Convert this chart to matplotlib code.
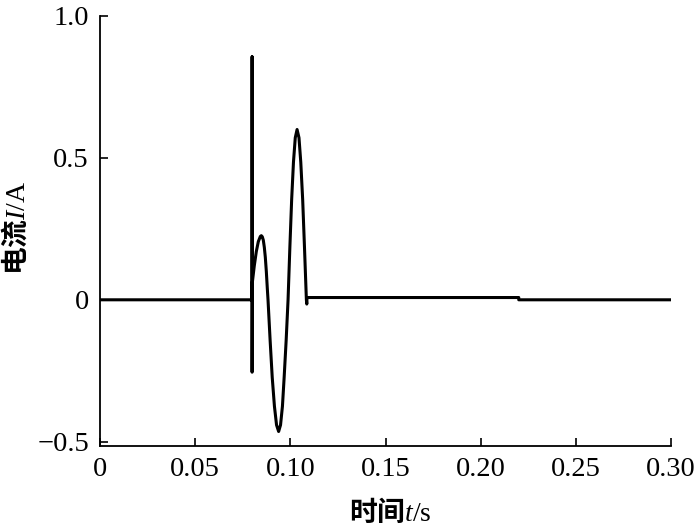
import matplotlib
matplotlib.use("Agg")
import matplotlib.pyplot as plt

plt.rcParams['font.family'] = ['Liberation Serif', 'Noto Sans CJK SC']
plt.rcParams['mathtext.fontset'] = 'custom'
plt.rcParams['mathtext.it'] = 'Liberation Serif:italic'
plt.rcParams['mathtext.rm'] = 'Liberation Serif'

# 电流波形 (读图得到的点)
t = [0.0, 0.0799, 0.0799, 0.0799, 0.0800,
     0.08105, 0.08211, 0.08316, 0.08421, 0.08474, 0.08526, 0.08579, 0.08632,
     0.08684, 0.08737, 0.08789, 0.08826, 0.08937, 0.09047, 0.09163, 0.09274,
     0.09384, 0.09484, 0.09584, 0.09674, 0.09779, 0.09879, 0.09974, 0.10068,
     0.10163, 0.10258, 0.10353, 0.10453, 0.10547, 0.10647, 0.10742, 0.10842,
     0.10863, 0.10874, 0.2200, 0.2200, 0.3000]
I = [0.0, 0.0, 0.856, -0.255, 0.06,
     0.12, 0.17, 0.205, 0.223, 0.226, 0.222, 0.21, 0.185,
     0.15, 0.10, 0.04, 0.0, -0.143, -0.273, -0.375, -0.441,
     -0.464, -0.441, -0.375, -0.273, -0.143, 0.0, 0.185, 0.353,
     0.485, 0.571, 0.60, 0.571, 0.485, 0.353, 0.185, 0.0,
     -0.015, 0.008, 0.008, 0.0, 0.0]

xticks = [0, 0.05, 0.10, 0.15, 0.20, 0.25, 0.30]
xticklabels = ["0", "0.05", "0.10", "0.15", "0.20", "0.25", "0.30"]
yticks = [-0.5, 0, 0.5, 1.0]
yticklabels = ["\u22120.5", "0", "0.5", "1.0"]

fig = plt.figure(figsize=(7, 5.32), dpi=100)
ax = fig.add_axes([0.1429, 0.1617, 0.8157, 0.8083])
ax.plot(t, I, color="black", linewidth=2.2)

ax.set_xlim(0, 0.30)
ax.set_ylim(-0.515, 1.0)
ax.set_xticks(xticks)
ax.set_xticklabels(xticklabels)
ax.set_yticks(yticks)
ax.set_yticklabels(yticklabels)
ax.tick_params(direction="in", length=6, width=1.2, labelsize=20.5, pad=8)
ax.spines["top"].set_visible(False)
ax.spines["right"].set_visible(False)
ax.spines["left"].set_linewidth(1.3)
ax.spines["bottom"].set_linewidth(1.3)

ax.set_xlabel("时间$t/\\mathrm{s}$", fontsize=20, va="center",
              fontfamily="Noto Sans CJK SC", fontweight="bold")
ax.set_ylabel("电流$I/\\mathrm{A}$", fontsize=20, va="center",
              fontfamily="Noto Sans CJK SC", fontweight="bold")
ax.xaxis.set_label_coords(0.508, -0.155)
ax.yaxis.set_label_coords(-0.147, 0.507)

fig.savefig("out.png", dpi=100)
